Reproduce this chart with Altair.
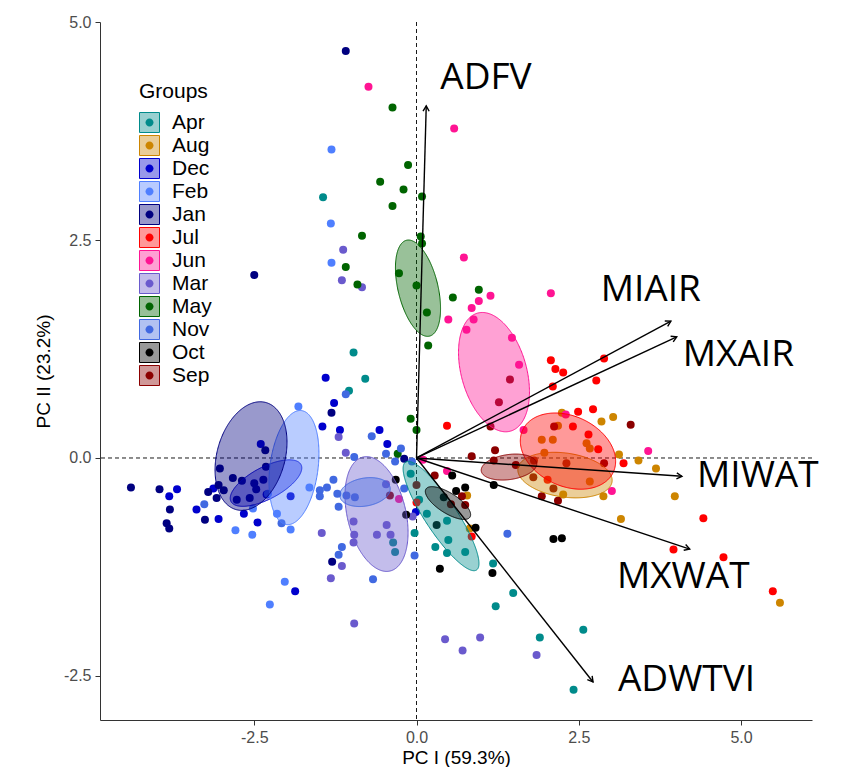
import altair as alt
import numpy as np
import pandas as pd

# ---------------- data ----------------
months = ["Apr", "Aug", "Dec", "Feb", "Jan", "Jul", "Jun", "Mar", "May", "Nov", "Oct", "Sep"]
colors = ["#008B8B", "#CD8500", "#0000CD", "#4F7FFF", "#000080", "#FF0000",
          "#FF1493", "#6A5ACD", "#006400", "#4169E1", "#000000", "#8B0000"]

apr_x = [-1.44, -0.97, -0.79, -1.04, -0.36, -0.33, -0.03, -0.09, 0.04, 0.16, 0.47, 0.29, 0.47, 0.75, 1.18, 0.49, 1.49, 1.22, 2.57, 1.90, 2.42]
apr_y = [2.99, 1.21, 0.91, 0.77, -0.97, -1.08, -0.86, -0.18, -0.48, -0.64, -0.72, -1.02, -1.09, -1.08, -1.21, -0.94, -1.55, -1.70, -1.97, -2.06, -2.66]
aug_x = [0.78, 0.82, 2.24, 2.85, 3.03, 2.18, 1.93, 2.10, 2.62, 2.67, 1.97, 3.12, 3.42, 3.69, 2.67, 3.98, 2.26, 2.88, 3.15, 5.60]
aug_y = [-0.43, -0.81, 0.52, 0.42, 0.47, 0.37, 0.21, 0.21, 0.17, 0.11, 0.06, 0.04, -0.03, -0.12, -0.27, -0.44, -0.42, -0.44, -0.70, -1.66]
dec_x = [-1.40, -1.27, -1.45, -1.18, -0.57, -0.45, -2.40, -2.31, -3.69, -3.13, -1.94, -3.81, -3.39, -3.05, -2.66, -2.45, -1.87, -0.01]
dec_y = [0.92, 0.63, 0.36, 0.32, 0.32, 0.16, 0.16, -0.42, -0.36, -0.35, -0.44, -0.44, -0.59, -0.70, -0.64, -0.74, -1.53, -0.62]
feb_x = [-1.31, -1.32, -1.31, -1.82, -2.52, -2.79, -2.53, -2.29, -2.15, -1.94, -1.65, -2.03, -2.26]
feb_y = [3.54, 2.69, 2.24, 0.59, -0.58, -0.83, -0.88, -0.41, -0.64, -0.82, -0.34, -1.42, -1.68]
jan_x = [-1.09, -2.50, -1.31, -0.19, -2.33, -2.32, -3.03, -2.83, -2.69, -2.36, -2.50, -2.47, -4.40, -3.96, -3.21, -3.05, -3.80, -3.85, -3.81, -3.26, -3.08, -2.97, -2.77, -2.57, -1.30]
jan_y = [4.67, 2.10, 0.52, -0.01, 0.09, -0.10, -0.12, -0.23, -0.26, -0.25, -0.29, -0.36, -0.34, -0.36, -0.39, -0.31, -0.59, -0.75, -0.81, -0.71, -0.46, -0.37, -0.48, -0.46, -1.19]
jul_x = [0.47, 2.07, 2.14, 2.26, 2.10, 2.89, 2.77, 2.49, 2.72, 2.41, 2.65, 2.80, 3.19, 2.02, 0.85, 0.00, 4.42, 3.96, 4.73, 5.49]
jul_y = [0.37, 1.12, 1.02, 0.98, 0.82, 1.14, 0.89, 0.53, 0.56, 0.36, 0.27, 0.10, -0.06, -0.25, -0.90, -0.51, -0.69, -1.05, -1.14, -1.53]
jun_x = [-0.74, 0.58, 0.73, 1.14, 0.96, 0.85, 2.07, 0.49, 0.88, 0.77, 1.47, 1.58, 1.65, -0.27, 0.10, 0.47, 3.57, 3.01, 2.30]
jun_y = [4.26, 3.78, 2.30, 1.86, 1.80, 1.72, 1.89, 1.59, 1.59, 1.47, 1.38, 1.07, 0.32, -0.47, -0.02, -0.15, 0.08, -0.38, 0.50]
mar_x = [-1.13, -1.15, -0.84, -1.20, -1.09, -0.47, -0.97, -0.96, -0.97, -1.46, -1.15, -1.32, -0.96, -0.61, -0.46, -0.40, -0.06, 0.44, 0.98, 0.71, 1.85]
mar_y = [2.39, 2.04, 1.96, 0.24, 0.06, -0.30, -0.73, -0.88, -0.97, -0.86, -1.24, -1.38, -1.90, -0.88, -0.77, -0.88, -0.67, -2.08, -2.06, -2.21, -2.26]
may_x = [-0.37, -0.13, -0.56, -0.20, 0.085, -0.37, -0.84, 0.065, 0.085, -1.09, -0.91, -0.27, 0.00, 0.16, 0.18, 0.96, 0.56, -0.09, 0.00, -0.29]
may_y = [4.02, 3.36, 3.17, 3.08, 3.00, 2.89, 2.55, 2.54, 2.46, 2.19, 1.99, 2.12, 1.98, 1.67, 1.29, 1.93, 1.84, 0.45, 0.32, 0.05]
nov_x = [-1.09, -0.69, -0.24, -0.47, -0.96, -0.33, -1.49, -1.38, -1.28, -1.22, -1.08, -0.19, -3.27, -2.08, -1.49, -1.20, -0.95, -1.15, -1.20, -0.67, -0.03, -0.07, 1.40]
nov_y = [0.73, 0.25, 0.11, 0.05, 0.01, -0.04, -0.37, -0.34, -0.25, -0.41, -0.43, -0.35, -0.53, -0.75, -0.44, -0.56, -0.45, -1.02, -1.11, -1.39, -1.12, -0.04, -0.87]
oct_x = [-0.32, -0.16, 0.55, 0.61, 0.75, 0.42, 0.31, 0.91, 1.17, 0.36, 1.19, 2.11, 2.24]
oct_y = [-0.25, -0.65, -0.20, -0.38, -0.34, -0.45, -0.77, -0.80, -1.32, -1.27, -0.31, -0.93, -0.92]
sep_x = [-0.41, 0.00, 0.28, 0.70, 0.75, 0.53, 0.85, 1.21, 1.14, 1.44, 1.27, 1.19, 3.30, 2.12, 2.89, 1.81, 1.53, 2.31, 1.80, 2.11, 1.93, 2.18]
sep_y = [-0.43, -0.31, -0.20, -0.44, -0.54, -0.53, 0.02, 0.09, 0.36, 0.90, 0.64, -0.03, 0.38, 0.36, -0.06, -0.03, -0.08, -0.06, -0.22, -0.35, -0.44, -0.49]

# ellipse parameters per group: centre and two conjugate semi-diameters (data units)
ell_cx = [0.378, 2.288, -2.319, -1.888, -2.550, 2.334, 1.194, -0.616, 0.023, -0.794, 0.485, 1.425]
ell_cy = [-0.666, -0.196, -0.288, -0.110, 0.022, 0.079, 0.985, -0.643, 1.948, -0.391, -0.517, -0.104]
ell_ux = [0.547, 0.725, 0.539, 0.116, 0.231, 0.698, -0.254, -0.208, -0.177, 0.387, 0.339, 0.427]
ell_uy = [-0.619, -0.076, 0.212, 0.654, 0.614, -0.242, 0.677, 0.654, 0.550, 0.051, -0.161, 0.045]
ell_vx = [0.206, 0.047, -0.115, 0.367, 0.504, 0.228, 0.484, 0.439, 0.299, -0.037, 0.083, -0.027]
ell_vy = [0.101, 0.250, 0.162, -0.036, -0.106, 0.364, 0.101, 0.077, 0.054, 0.158, 0.097, 0.142]

# variable loadings (arrow tips) and label positions
var_names = ["ADFV", "MIAIR", "MXAIR", "MIWAT", "MXWAT", "ADWTVI"]
var_x = [0.15, 3.92, 4.01, 4.09, 4.21, 2.72]
var_y = [4.04, 1.57, 1.39, -0.21, -1.045, -2.57]
lab_x = [1.07, 3.61, 4.96, 5.26, 4.11, 4.16]
lab_y = [4.36, 1.93, 1.18, -0.21, -1.37, -2.55]

# ---------------- tables ----------------
xs_all = [apr_x, aug_x, dec_x, feb_x, jan_x, jul_x, jun_x, mar_x, may_x, nov_x, oct_x, sep_x]
ys_all = [apr_y, aug_y, dec_y, feb_y, jan_y, jul_y, jun_y, mar_y, may_y, nov_y, oct_y, sep_y]
rows = []
for m, xs_, ys_ in zip(months, xs_all, ys_all):
    for a, b in zip(xs_, ys_):
        rows.append({"month": m, "x": a, "y": b})
pts = pd.DataFrame(rows)

erows = []
for i, m in enumerate(months):
    M = np.array([[ell_ux[i], ell_vx[i]], [ell_uy[i], ell_vy[i]]])
    Mi = np.linalg.inv(M)
    Q = Mi.T @ Mi
    q11, q12, q22 = Q[0, 0], Q[0, 1], Q[1, 1]
    W = np.sqrt(q22 / (q11 * q22 - q12 ** 2))
    for t in np.linspace(0, np.pi, 140):
        dx = W * np.cos(t)
        disc = max(0.0, q12 ** 2 * dx ** 2 - q22 * (q11 * dx ** 2 - 1))
        lo = (-q12 * dx - np.sqrt(disc)) / q22
        hi = (-q12 * dx + np.sqrt(disc)) / q22
        erows.append({"grp": m, "grp2": m, "x": ell_cx[i] + dx,
                      "y": ell_cy[i] + hi, "y2": ell_cy[i] + lo})
ell = pd.DataFrame(erows).sort_values(["grp", "x"])

XMIN, XMAX, YMIN, YMAX = -4.877, 6.094, -3.006, 5.002
W_PX, H_PX = 712, 698
kx = W_PX / (XMAX - XMIN)
ky = H_PX / (YMAX - YMIN)
arr = pd.DataFrame({"name": var_names, "x": var_x, "y": var_y,
                    "ox": [0.0] * 6, "oy": [0.0] * 6,
                    "lx": lab_x, "ly": lab_y})
arr["ang"] = [(np.degrees(np.arctan2(a * kx, b * ky)) % 360) for a, b in zip(var_x, var_y)]
zero = pd.DataFrame({"x": [0.0], "y": [0.0]})

# ---------------- chart ----------------
FONT = "Liberation Sans"
xs = alt.Scale(domain=[XMIN, XMAX], nice=False, zero=False)
ys = alt.Scale(domain=[YMIN, YMAX], nice=False, zero=False)
lab_expr = "(datum.value < 0 ? '-' : '') + format(abs(datum.value), '.1f')"
xaxis = alt.Axis(title="PC I (59.3%)", values=[-2.5, 0, 2.5, 5], labelExpr=lab_expr,
                 grid=False, domainColor="#333333", tickColor="#333333", tickSize=5,
                 labelFont=FONT, labelFontSize=16, labelColor="#4D4D4D", labelPadding=4,
                 titleFont=FONT, titleFontSize=19, titleFontWeight="normal",
                 titleColor="black", titlePadding=3)
yaxis = alt.Axis(title="PC II (23.2%)", values=[-2.5, 0, 2.5, 5], labelExpr=lab_expr,
                 grid=False, domainColor="#333333", tickColor="#333333", tickSize=5,
                 labelFont=FONT, labelFontSize=16, labelColor="#4D4D4D", labelPadding=4,
                 titleFont=FONT, titleFontSize=19, titleFontWeight="normal",
                 titleColor="black", titlePadding=10)

LEG_X, LEG_Y = 39, 59
common_leg = dict(title="Groups", orient="none", legendX=LEG_X, legendY=LEG_Y,
                  symbolSize=400, symbolStrokeWidth=1, labelFont=FONT, labelFontSize=21,
                  titleFont=FONT, titleFontSize=21, titleFontWeight="normal",
                  titleColor="black", labelColor="black", labelOffset=12,
                  rowPadding=-2.7, titlePadding=10, padding=0)

fill_leg = alt.Legend(symbolType="square", zindex=1, symbolOpacity=0.4,
                      symbolStrokeColor="transparent", titleOpacity=0, labelOpacity=0,
                      **common_leg)
stroke_leg = alt.Legend(symbolType="square", zindex=2, symbolFillColor="transparent",
                        titleOpacity=0, labelOpacity=0, **common_leg)
dot_path = "M-1,-1M1,1M-0.4,0A0.4,0.4,0,1,1,0.4,0A0.4,0.4,0,1,1,-0.4,0Z"
dot_leg = alt.Legend(symbolType=dot_path, zindex=3,
                     symbolStrokeColor="transparent", **common_leg)

vline = alt.Chart(zero).mark_rule(color="black", strokeDash=[4, 3], strokeWidth=0.9).encode(
    x=alt.X("x:Q", scale=xs, axis=xaxis))
hline = alt.Chart(zero).mark_rule(color="black", strokeDash=[4, 3], strokeWidth=0.9).encode(
    y=alt.Y("y:Q", scale=ys, axis=yaxis))

points = alt.Chart(pts).mark_circle(size=64, opacity=1).encode(
    x=alt.X("x:Q", scale=xs, axis=xaxis),
    y=alt.Y("y:Q", scale=ys, axis=yaxis),
    color=alt.Color("month:N", scale=alt.Scale(range=colors), legend=dot_leg),
)

ellipses = alt.Chart(ell).mark_area(fillOpacity=0.4, strokeWidth=1, strokeOpacity=1).encode(
    x=alt.X("x:Q", scale=xs, axis=xaxis),
    y=alt.Y("y:Q", scale=ys, axis=yaxis),
    y2="y2:Q",
    fill=alt.Fill("grp:N", scale=alt.Scale(range=colors), legend=fill_leg),
    stroke=alt.Stroke("grp2:N", scale=alt.Scale(range=colors), legend=stroke_leg),
    detail="grp:N",
)

shafts = alt.Chart(arr).mark_rule(color="black", strokeWidth=1.4).encode(
    x=alt.X("ox:Q", scale=xs, axis=xaxis), y=alt.Y("oy:Q", scale=ys, axis=yaxis),
    x2="x:Q", y2="y:Q")

heads = alt.Chart(arr).mark_point(shape="M-0.5,0.87L0,0L0.5,0.87", filled=False,
                                  size=150, color="black", strokeWidth=1.4,
                                  opacity=1).encode(
    x=alt.X("x:Q", scale=xs, axis=xaxis), y=alt.Y("y:Q", scale=ys, axis=yaxis),
    angle=alt.Angle("ang:Q", scale=None))

labels = alt.Chart(arr).mark_text(font="Open Sans", fontSize=37, align="center",
                                  baseline="middle", color="black").encode(
    x=alt.X("lx:Q", scale=xs, axis=xaxis), y=alt.Y("ly:Q", scale=ys, axis=yaxis),
    text="name:N")

chart = alt.layer(vline, hline, points, ellipses, shafts, heads, labels).resolve_scale(
    color="independent", fill="independent", stroke="independent"
).properties(
    width=W_PX, height=H_PX,
    padding={"left": 92, "top": 14, "right": 30, "bottom": 47},
    autosize=alt.AutoSizeParams(type="none"),
).configure_view(stroke=None)

chart.save("out.html", embed_options={"renderer": "svg", "actions": False})
